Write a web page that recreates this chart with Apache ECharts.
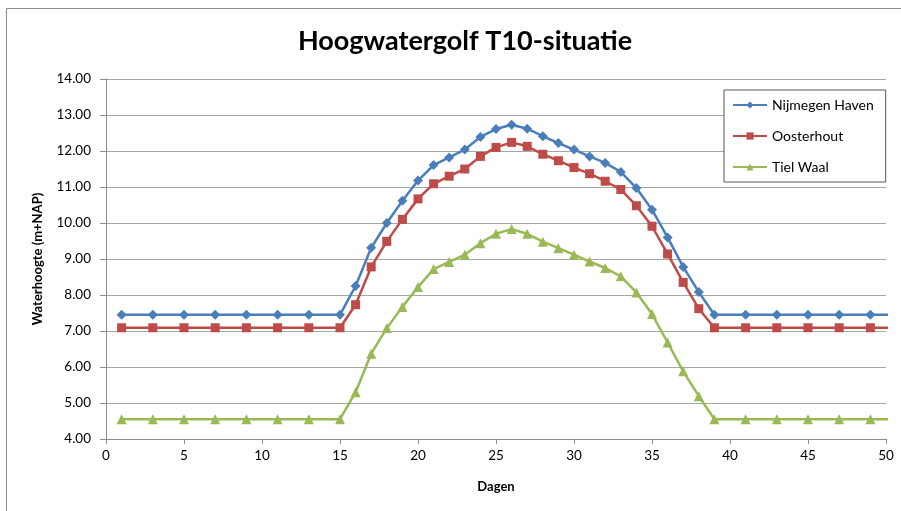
<!DOCTYPE html>
<html>
<head>
<meta charset="utf-8">
<script src="https://cdn.jsdelivr.net/npm/echarts@6/dist/echarts.min.js"></script>
<style>html,body{margin:0;padding:0;background:#fff}#c{width:901px;height:511px}</style>
</head>
<body>
<div id="c"></div>
<script>
var days = [1,3,5,7,9,11,13,15,16,17,18,19,20,21,22,23,24,25,26,27,28,29,30,31,32,33,34,35,36,37,38,39,41,43,45,47,49,51];
var nijmegen = [7.45,7.45,7.45,7.45,7.45,7.45,7.45,7.45,8.25,9.31,10.00,10.62,11.18,11.61,11.82,12.04,12.39,12.61,12.73,12.62,12.41,12.22,12.04,11.85,11.67,11.42,10.97,10.37,9.60,8.78,8.08,7.45,7.45,7.45,7.45,7.45,7.45,7.45];
var oosterhout = [7.09,7.09,7.09,7.09,7.09,7.09,7.09,7.09,7.73,8.78,9.49,10.10,10.67,11.09,11.30,11.50,11.85,12.10,12.24,12.13,11.91,11.73,11.54,11.37,11.16,10.93,10.48,9.91,9.14,8.35,7.62,7.09,7.09,7.09,7.09,7.09,7.09,7.09];
var tiel = [4.55,4.55,4.55,4.55,4.55,4.55,4.55,4.55,5.30,6.37,7.08,7.67,8.22,8.72,8.92,9.12,9.44,9.70,9.83,9.70,9.48,9.30,9.12,8.93,8.75,8.52,8.07,7.47,6.68,5.88,5.19,4.55,4.55,4.55,4.55,4.55,4.55,4.55];
var seriesNames = ['Nijmegen Haven','Oosterhout','Tiel Waal'];

function pairs(vals){ return days.map(function(d,i){ return [d, vals[i]]; }); }

var font = 'Lato, "Open Sans", sans-serif';
var chart = echarts.init(document.getElementById('c'), null, {renderer:'canvas'});
function mk(name, vals, color, symbol, size){
  return {
    name: name, type: 'line', data: pairs(vals), clip: true,
    symbol: symbol, symbolSize: size, showAllSymbol: true,
    lineStyle: {color: color, width: 2.5},
    itemStyle: {color: color},
    emphasis: {disabled: true},
    animation: false
  };
}
chart.setOption({
  animation: false,
  textStyle: {fontFamily: font},
  title: {
    text: 'Hoogwatergolf T10-situatie', left: 460, textAlign: 'center', top: 23,
    textStyle: {fontFamily: font, fontWeight: 'bold', fontSize: 27, color: '#000'}
  },
  graphic: [{
    type: 'rect', shape: {x: 6.5, y: 8.5, width: 1000, height: 1000},
    style: {fill: null, stroke: '#8c8c8c', lineWidth: 1}, silent: true
  }],
  legend: {
    orient: 'vertical', left: 724, top: 90,
    data: seriesNames,
    padding: [8, 12, 8, 8], itemGap: 17, itemWidth: 34, itemHeight: 9,
    borderColor: '#555', borderWidth: 1, backgroundColor: '#fff',
    textStyle: {fontFamily: font, fontSize: 14, color: '#000'}
  },
  grid: {left: 106, right: 15, top: 79, bottom: 72, containLabel: false},
  xAxis: {
    type: 'value', min: 0, max: 50, interval: 5,
    name: 'Dagen', nameLocation: 'middle', nameGap: 41,
    nameTextStyle: {fontFamily: font, fontWeight: 'bold', fontSize: 13, color: '#000'},
    axisLine: {show: true, lineStyle: {color: '#8c8c8c'}},
    axisTick: {show: true, length: 5, lineStyle: {color: '#8c8c8c'}},
    axisLabel: {fontFamily: font, fontSize: 13.5, color: '#000', margin: 10},
    splitLine: {show: false}
  },
  yAxis: {
    type: 'value', min: 4, max: 14, interval: 1,
    name: 'Waterhoogte (m+NAP)', nameLocation: 'middle', nameGap: 62,
    nameTextStyle: {fontFamily: font, fontWeight: 'bold', fontSize: 13, color: '#000'},
    axisLine: {show: true, lineStyle: {color: '#8c8c8c'}},
    axisTick: {show: true, length: 6, lineStyle: {color: '#8c8c8c'}},
    axisLabel: {fontFamily: font, fontSize: 13.5, color: '#000', margin: 15,
      formatter: function(v){ return v.toFixed(2); }},
    splitLine: {show: true, lineStyle: {color: '#a6a6a6', width: 1}}
  },
  series: [
    mk(seriesNames[0], nijmegen, '#4a7ebb', 'diamond', 10),
    mk(seriesNames[1], oosterhout, '#be4b48', 'rect', 9),
    mk(seriesNames[2], tiel, '#98b954', 'triangle', 10)
  ]
});
</script>
</body>
</html>
